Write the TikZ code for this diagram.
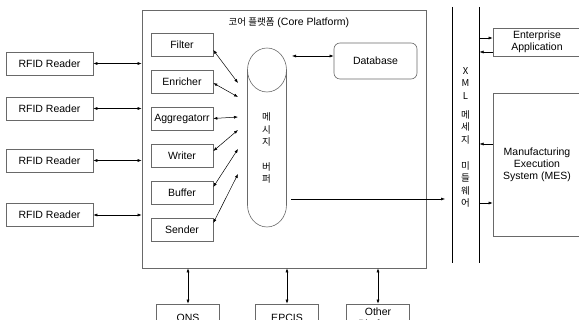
\documentclass[tikz,border=0pt]{standalone}
\usepackage{fontspec}
\setmainfont{Liberation Sans}
\newfontfamily\krFont{Noto Sans CJK KR}
\usepackage{tikz}
\usetikzlibrary{positioning, arrows.meta}
\tikzstyle{diagram} = [x = 1pt, y = -1pt]
\definecolor{boxColor}{RGB}{105,105,105}
\tikzstyle{boxStyle} = [draw=boxColor, line width=.6pt, fill=white, inner sep=0pt, align=center, font=\fontsize{10.5}{12}\selectfont]
\tikzstyle{coreStyle} = [draw=boxColor, line width=.6pt, inner sep=0pt, minimum width=284pt, minimum height=258pt]
\tikzstyle{readerStyle} = [boxStyle, minimum width=87pt, minimum height=23pt]
\tikzstyle{moduleStyle} = [boxStyle, minimum width=62pt, minimum height=23pt]
\tikzstyle{outsideStyle} = [boxStyle, minimum width=88pt]
\tikzstyle{bottomStyle} = [boxStyle, minimum width=63pt, minimum height=28pt]
\tikzstyle{linkLine} = [line width=.5pt, {Latex[length=4pt,width=3pt]}-{Latex[length=4pt,width=3pt]}]
\tikzstyle{oneWay} = [line width=.5pt, -{Latex[length=4pt,width=3pt]}]
\tikzstyle{tankLine} = [draw=boxColor, line width=.6pt]
\tikzstyle{titleText} = [inner sep=0pt, font=\fontsize{10.5}{12}\selectfont]
\tikzstyle{verticalText} = [inner sep=0pt, align=center, font=\krFont\fontsize{9.5}{12.5}\selectfont]
\newcommand{\readerBox}[2]{
  \node [readerStyle] (#1) at (49.5,#2) {RFID Reader};
  \draw [linkLine] (#1.east) -- (#1.east -| core.west);
}
\newcommand{\moduleBox}[3]{\node [moduleStyle] (#1) at (182,#2) {#3};}
\newcommand{\moduleLink}[3]{
  \coordinate (#1In) at (238,#3);
  \draw [linkLine] ([yshift=#2]#1.east) -- (#1In);
}
\newcommand{\bottomBox}[3]{
  \node [bottomStyle] (#1) at (#2,318) {#3};
  \draw [linkLine] (#1.north) -- (#1.north |- core.south);
}

\begin{document}
\begin{tikzpicture}[diagram]
  \clip (0,0) rectangle (579,320);
  \node [coreStyle] (core) at (284,139) {};
  \node [titleText] (coreTitle) at (289,23) {{\krFont\fontsize{9.5}{12}\selectfont 코어 플랫폼} (Core Platform)};

  \foreach \row/\ypos in {A/63.5, B/108.5, C/160.5, D/215} {
    \readerBox{reader\row}{\ypos}
  }

  \moduleBox{filter}{44.5}{Filter}
  \moduleBox{enricher}{81.5}{Enricher}
  \moduleBox{aggregator}{118.5}{Aggregatorr}
  \moduleBox{writer}{155.5}{Writer}
  \moduleBox{buffer}{192.5}{Buffer}
  \moduleBox{sender}{229.5}{Sender}
  \moduleLink{filter}{-5.5pt}{83}
  \moduleLink{enricher}{-1.5pt}{97}
  \moduleLink{aggregator}{0pt}{117}
  \moduleLink{writer}{4.5pt}{130}
  \moduleLink{buffer}{5.5pt}{149}
  \moduleLink{sender}{6.5pt}{174}

  \draw [tankLine] (267,70) ellipse [x radius=19.5, y radius=22];
  \draw [tankLine] (247.5,70) -- (247.5,205) arc [start angle=180, end angle=0, x radius=19.5, y radius=22] -- (286.5,70);
  \node [verticalText] (tankText) at (266.5,148) {메\\시\\지\\[12pt]버\\퍼};

  \node [boxStyle, rounded corners=6pt, minimum width=83pt, minimum height=36pt] (database) at (375.5,61) {Database};
  \coordinate (tankEdge) at (292,56);
  \draw [linkLine] (tankEdge) -- (tankEdge -| database.west);

  \coordinate (mwLeftTop) at (452,7);
  \coordinate (mwLeftBottom) at (452,263);
  \coordinate (mwRightTop) at (479.5,7);
  \coordinate (mwRightBottom) at (479.5,263);
  \draw [line width=.6pt] (mwLeftTop) -- (mwLeftBottom);
  \draw [line width=.6pt] (mwRightTop) -- (mwRightBottom);
  \node [verticalText] (mwText) at (465.5,137.5) {X\\M\\L\\[6.5pt]메\\세\\지\\[13.5pt]미\\들\\웨\\어};

  \coordinate (tankOut) at (291,199);
  \draw [oneWay] (tankOut) -- ([xshift=-7pt]tankOut -| mwLeftTop);

  \node [outsideStyle, minimum height=28pt] (enterprise) at (537,42) {Enterprise\\Application};
  \coordinate (entIn) at ([yshift=4pt]enterprise.west);
  \coordinate (entOut) at ([yshift=-10pt]enterprise.west);
  \draw [oneWay] (entIn -| mwRightTop) -- (entIn);
  \draw [oneWay] (entOut) -- (entOut -| mwRightTop);

  \node [outsideStyle, minimum height=143pt] (mes) at (537,164.5) {Manufacturing\\Execution\\System (MES)};
  \coordinate (mesOut) at ([yshift=20.5pt]mes.west);
  \coordinate (mesIn) at ([yshift=-38.5pt]mes.west);
  \draw [oneWay] (mesOut) -- (mesOut -| mwRightTop);
  \draw [oneWay] (mesIn -| mwRightTop) -- (mesIn);

  \bottomBox{ons}{188}{ONS}
  \bottomBox{epcis}{287}{EPCIS}
  \bottomBox{otherPlatform}{378}{Other\\Platform}
\end{tikzpicture}
\end{document}
